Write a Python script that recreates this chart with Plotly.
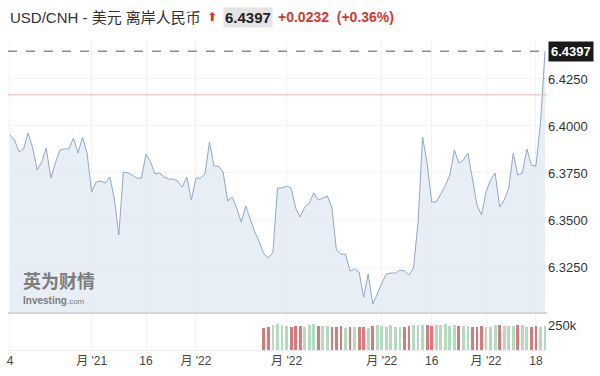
import plotly.graph_objects as go

# ---- data ----
prices = [
    6.3952, 6.3926, 6.3862, 6.3878, 6.3963, 6.3883, 6.3766, 6.3808, 6.3883, 6.3723,
    6.3803, 6.3872, 6.3878, 6.3878, 6.3936, 6.3856, 6.3941, 6.3856, 6.3649, 6.3702,
    6.3707, 6.3697, 6.3729, 6.3617, 6.3420, 6.3755, 6.3750, 6.3739, 6.3723, 6.3723,
    6.3851, 6.3808, 6.3745, 6.3750, 6.3729, 6.3718, 6.3718, 6.3707, 6.3675, 6.3729,
    6.3606, 6.3723, 6.3723, 6.3745, 6.3915, 6.3787, 6.3787, 6.3755, 6.3601, 6.3622,
    6.3564, 6.3489, 6.3574, 6.3505, 6.3436, 6.3383, 6.3319, 6.3298, 6.3330, 6.3670,
    6.3670, 6.3681, 6.3670, 6.3564, 6.3516, 6.3569, 6.3590, 6.3644, 6.3606, 6.3617,
    6.3628, 6.3564, 6.3340, 6.3319, 6.3319, 6.3229, 6.3239, 6.3223, 6.3090, 6.3213,
    6.3053, 6.3106, 6.3165, 6.3213, 6.3218, 6.3218, 6.3234, 6.3229, 6.3207, 6.3245,
    6.3489, 6.3941, 6.3803, 6.3596, 6.3596, 6.3638, 6.3681, 6.3739, 6.3872, 6.3803,
    6.3819, 6.3856, 6.3713, 6.3580, 6.3526, 6.3649, 6.3713, 6.3750, 6.3569, 6.3606,
    6.3670, 6.3856, 6.3739, 6.3750, 6.3878, 6.3792, 6.3787, 6.4016, 6.4397,
]
volume_start = 57  # first session (1-based) with a volume bar
volumes_k = [
    225, 228, 255, 262, 248, 240, 232, 236, 238, 230,
    252, 258, 244, 236, 240, 228, 232, 238, 222, 230,
    226, 232, 228, 220, 242, 246, 240, 235, 246, 234,
    230, 226, 238, 250, 252, 248, 246, 244, 250, 252,
    256, 242, 246, 240, 238, 236, 232, 230, 236, 226,
    232, 246, 248, 240, 236, 242, 248, 246, 234, 230,
    238, 234, 236,
]
last_price = 6.4397
prev_close = 6.4165
change_text = "+0.0232"
change_pct_text = "(+0.36%)"
title_text = "USD/CNH - 美元 离岸人民币"
tick_sessions = [1, 19, 31, 42, 62, 83, 94, 106, 117]
tick_labels = ["4", "月 '21", "16", "月 '22", "月 '22", "月 '22", "16", "月 '22", "18"]
price_ticks = [6.3250, 6.3500, 6.3750, 6.4000, 6.4250]
vol_ticks = [250000]
vol_tick_labels = ["250k"]

# ---- derived ----
n = len(prices)
sessions = list(range(1, n + 1))
vol_x = sessions[volume_start - 1:volume_start - 1 + len(volumes_k)]
vol_y = [v * 1000 for v in volumes_k]
vol_colors = []
for s in vol_x:
    i = s - 1
    up = prices[i] >= prices[i - 1]
    vol_colors.append("#b3dbbd" if up else "#d57b7c")

FONT = "Liberation Sans, Arial, Noto Sans CJK SC, sans-serif"
CJK = "Liberation Sans, Noto Sans CJK SC, sans-serif"

fig = go.Figure()
fig.add_trace(go.Scatter(
    x=sessions, y=prices, mode="lines",
    line=dict(color="#92a8c2", width=1),
    fill="tozeroy", fillcolor="rgba(224,232,242,0.75)",
    hoverinfo="skip", xaxis="x", yaxis="y",
))
fig.add_trace(go.Bar(
    x=vol_x, y=vol_y, marker=dict(color=vol_colors, line=dict(width=0)),
    width=0.62, xaxis="x2", yaxis="y2", hoverinfo="skip",
))

xr = [0.56, 119.44]
fig.update_layout(
    width=600, height=376,
    margin=dict(l=8, r=53, t=40, b=26),
    paper_bgcolor="white", plot_bgcolor="white",
    showlegend=False,
    font=dict(family=FONT, color="#333", size=12),
    xaxis=dict(domain=[0, 1], range=xr, anchor="y", showticklabels=False,
               tickvals=tick_sessions, showgrid=True, gridcolor="#f0f2f5",
               gridwidth=1, zeroline=False, showline=False, ticks=""),
    xaxis2=dict(domain=[0, 1], range=xr, anchor="y2", matches="x",
                tickvals=tick_sessions, ticktext=tick_labels, showgrid=True,
                gridcolor="#f0f2f5", zeroline=False, showline=True,
                linecolor="#eeeeee", linewidth=1, ticks="",
                tickfont=dict(family=CJK, size=12, color="#444")),
    yaxis=dict(domain=[0.119, 1], range=[6.3005, 6.4457], side="right",
               tickvals=price_ticks, ticktext=[f"{v:.4f}" for v in price_ticks],
               showgrid=True, gridcolor="#f2f3f5", zeroline=False,
               showline=False, ticks="", tickfont=dict(size=13, color="#333")),
    yaxis2=dict(domain=[0, 0.113], range=[0, 350000], side="right",
                tickvals=vol_ticks, ticktext=vol_tick_labels, showgrid=False,
                zeroline=False, showline=False, ticks="",
                tickfont=dict(size=13, color="#333")),
    bargap=0,
)

# plot-bottom separator
fig.add_shape(type="line", xref="x domain", yref="y domain", x0=0, x1=1, y0=0, y1=0,
              line=dict(color="#d4d7dc", width=2))
# previous close line
fig.add_shape(type="line", xref="x domain", yref="y", x0=0, x1=1,
              y0=prev_close, y1=prev_close, line=dict(color="#f2b4b4", width=1))
# last price dashed line
fig.add_shape(type="line", xref="x domain", yref="y", x0=0, x1=1,
              y0=last_price, y1=last_price,
              line=dict(color="#8c8c8c", width=1.5, dash="dash"))

# last price label on axis
fig.add_annotation(xref="paper", yref="y", x=1.0, y=last_price, xanchor="left",
                   xshift=1, text=f"<b>{last_price:.4f}</b>", showarrow=False,
                   bgcolor="#1a1a1a", font=dict(color="white", size=13, family=FONT),
                   borderpad=2)

# header
fig.add_annotation(xref="paper", yref="paper", x=0.0, y=1.0, yshift=23,
                   xanchor="left", yanchor="middle", text=title_text, showarrow=False,
                   font=dict(family=CJK, size=15, color="#333"))
fig.add_annotation(xref="paper", yref="paper", x=0.378, y=1.0, yshift=23,
                   xanchor="center", yanchor="middle", text="⬆", showarrow=False,
                   font=dict(family="DejaVu Sans", size=12, color="#d9342b"))
fig.add_annotation(xref="paper", yref="paper", x=0.398, y=1.0, yshift=23,
                   xanchor="left", yanchor="middle", text=f"<b>{last_price:.4f}</b>",
                   showarrow=False, bgcolor="#e4e4e4", borderpad=1,
                   font=dict(family=FONT, size=15, color="#222"))
fig.add_annotation(xref="paper", yref="paper", x=0.498, y=1.0, yshift=23,
                   xanchor="left", yanchor="middle",
                   text=f"<b>{change_text}</b>  <b>{change_pct_text}</b>", showarrow=False,
                   font=dict(family=FONT, size=14, color="#d13b33"))

# watermark
fig.add_annotation(xref="paper", yref="paper", x=0.026, y=0.18, xanchor="left",
                   yanchor="bottom", text="<b>英为财情</b>", showarrow=False,
                   borderpad=0,
                   font=dict(family="Noto Sans CJK SC", size=18, color="#7d7d7d"))
fig.add_annotation(xref="paper", yref="paper", x=0.026, y=0.18, xanchor="left",
                   yanchor="top", borderpad=0,
                   text="<b>Investing</b><span style='font-size:8px'>.com</span>",
                   showarrow=False, font=dict(family=FONT, size=10, color="#7d7d7d"))

fig.write_html("out.html")
